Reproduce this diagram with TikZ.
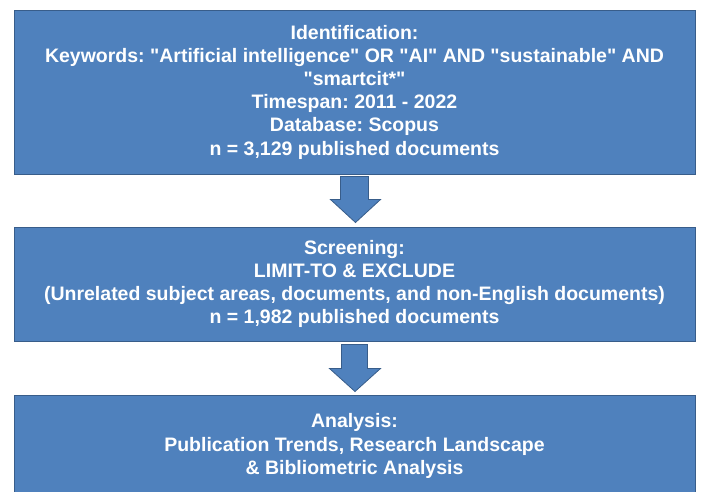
\documentclass[tikz,border=0pt]{standalone}
\usepackage{fontspec}
\setmainfont{Liberation Sans}[Ligatures=TeXOff]
\usetikzlibrary{calc}
\definecolor{boxfill}{HTML}{4F81BD}
\definecolor{boxline}{HTML}{385D8A}
\tikzset{
  stagebox/.style={draw=boxline, fill=boxfill, line width=1pt, inner sep=0pt,
    minimum width=681pt, text=white, align=center,
    font=\bfseries\frenchspacing\fontsize{19.5}{23.2}\selectfont},
  blockarrow/.style={draw=boxline, fill=boxfill, line width=0.8pt, line join=miter}
}
\begin{document}
\begin{tikzpicture}[x=1pt,y=-1pt]
\useasboundingbox (0,0) rectangle (701,491);
\node[stagebox, minimum height=164pt] (ident) at (354.5,92) {Identification:\\
Keywords: "Artificial intelligence" OR "AI" AND "sustainable" AND\\
"smartcit*"\\
Timespan: 2011 - 2022\\
Database: Scopus\\
n = 3,129 published documents};
\node[stagebox, minimum height=114pt] (screen) at (354.5,284) {Screening:\\
LIMIT-TO \& EXCLUDE\\
(Unrelated subject areas, documents, and non-English documents)\\
n = 1,982 published documents};
\node[stagebox, minimum height=102pt] (anal) at (354.5,446) {Analysis:\\
Publication Trends, Research Landscape\\
\& Bibliometric Analysis};
% block arrows between stages
\draw[blockarrow] ($(ident.south)+(-14,2)$) -- ($(ident.south)+(14,2)$)
  -- ($(ident.south)+(14,25)$) -- ($(ident.south)+(26,25)$)
  -- ($(screen.north)+(1,-4)$) -- ($(ident.south)+(-24,25)$)
  -- ($(ident.south)+(-14,25)$) -- cycle;
\draw[blockarrow] ($(screen.south)+(-13,3)$) -- ($(screen.south)+(13,3)$)
  -- ($(screen.south)+(13,27)$) -- ($(screen.south)+(26,27)$)
  -- ($(anal.north)+(0.5,-3)$) -- ($(screen.south)+(-25,27)$)
  -- ($(screen.south)+(-13,27)$) -- cycle;
\end{tikzpicture}
\end{document}
